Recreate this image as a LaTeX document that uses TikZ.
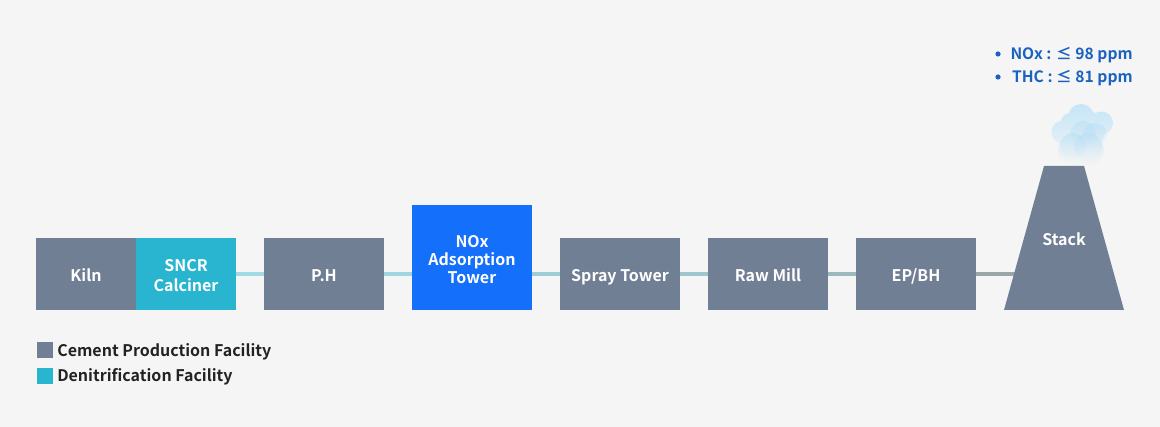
\documentclass[tikz,border=0pt]{standalone}
\usepackage{fontspec}
\setmainfont{Noto Sans CJK KR}[BoldFont={Noto Sans CJK KR Bold}]
\usetikzlibrary{backgrounds,fadings}
\definecolor{bgc}{HTML}{F5F5F5}
\definecolor{grayb}{HTML}{717F95}
\definecolor{cyanb}{HTML}{29B5CF}
\definecolor{blueb}{HTML}{146FFA}
\definecolor{note}{HTML}{1B62C0}
\definecolor{ink}{HTML}{222222}
\definecolor{smokec}{HTML}{C6E6F8}
\definecolor{smoked}{HTML}{AEDBF5}
\newcommand\topst{\rule{0pt}{15pt}}
\newcommand\botst{\rule[-3pt]{0pt}{3pt}}
\tikzfading[name=smokefade,top color=transparent!0,bottom color=transparent!100]
\tikzset{
  x=0.75pt,y=-0.75pt,
  proc/.style={inner sep=0pt,minimum width=90pt,minimum height=54pt,fill=grayb,text=white,align=center,font=\fontsize{12}{13.5}\selectfont\bfseries},
  link/.style={line width=3pt},
  legendbox/.style={inner sep=0pt,minimum width=12pt,minimum height=12pt},
  legendtext/.style={anchor=base west,inner sep=0pt,text=ink,font=\fontsize{12}{14}\selectfont\bfseries},
  notetext/.style={anchor=base east,inner sep=0pt,text=note,font=\fontsize{11.75}{14}\selectfont\bfseries},
  puff/.style={fill=smokec,path fading=smokefade,fit fading=true},
  innerpuff/.style={fill=smoked,fill opacity=.4,path fading=smokefade,fit fading=true}
}
\begin{document}
\begin{tikzpicture}
\useasboundingbox (0,0) rectangle (1160,427);
\node[proc,minimum width=75pt] (kiln) at (86,274) {\topst Kiln\botst};
\node[proc,minimum width=75pt,fill=cyanb] (sncr) at (186,274) {\topst SNCR\\[1.5pt]Calciner\botst};
\node[proc] (ph) at (324,274) {\topst P.H\botst};
\node[proc,fill=blueb,minimum height=79pt] (nox) at (472,257.5) {\topst NOx\\Adsorption\\Tower\botst};
\node[proc] (spray) at (620,274) {\topst Spray Tower\botst};
\node[proc] (raw) at (768,274) {\topst Raw Mill\botst};
\node[proc] (ep) at (916,274) {\topst EP/BH\botst};
\fill[grayb] (1044,166) -- (1084,166) -- (1124,310) -- (1004,310) -- cycle;
\node[proc,fill=none,minimum width=0pt,minimum height=0pt] (stack) at (1064,238) {\topst Stack\botst};
\coordinate (stackin) at (1016,274);
\begin{scope}[on background layer]
\fill[bgc] (0,0) rectangle (1160,427);
\draw[link,color={rgb,255:red,160;green,218;blue,227}] (sncr.east) -- (ph.west);
\draw[link,color={rgb,255:red,160;green,214;blue,224}] (ph.east) -- (ph.east -| nox.west);
\draw[link,color={rgb,255:red,159;green,205;blue,213}] (spray.west -| nox.east) -- (spray.west);
\draw[link,color={rgb,255:red,159;green,198;blue,204}] (spray.east) -- (raw.west);
\draw[link,color={rgb,255:red,156;green,185;blue,189}] (raw.east) -- (ep.west);
\draw[link,color={rgb,255:red,152;green,168;blue,168}] (ep.east) -- (stackin);
\end{scope}
\fill[puff] (1081,117) circle[radius=13] (1101.5,123) circle[radius=11.5] (1063,132) circle[radius=11.5] (1070,122) circle[radius=9]
  (1085,130) circle[radius=20] (1075,150) circle[radius=17] (1088,150) circle[radius=16];
\foreach \cx/\cy/\r in {1083/134/13,1095/135/12,1073/146/13,1088/147/14}{
  \fill[innerpuff] (\cx,\cy) circle[radius=\r];
}
\node[notetext] (n1) at (1133,59.7) {NOx : ≤ 98 ppm};
\node[notetext] (n2) at (1133,82.2) {THC : ≤ 81 ppm};
\fill[note] (998,54) circle[radius=2.6];
\fill[note] (998,77) circle[radius=2.6];
\node[legendbox,fill=grayb] (l1) at (45,350) {};
\node[legendbox,fill=cyanb] (l2) at (45,376) {};
\node[legendtext] (t1) at (57,357) {Cement Production Facility};
\node[legendtext] (t2) at (57,382) {Denitrification Facility};
\end{tikzpicture}
\end{document}
